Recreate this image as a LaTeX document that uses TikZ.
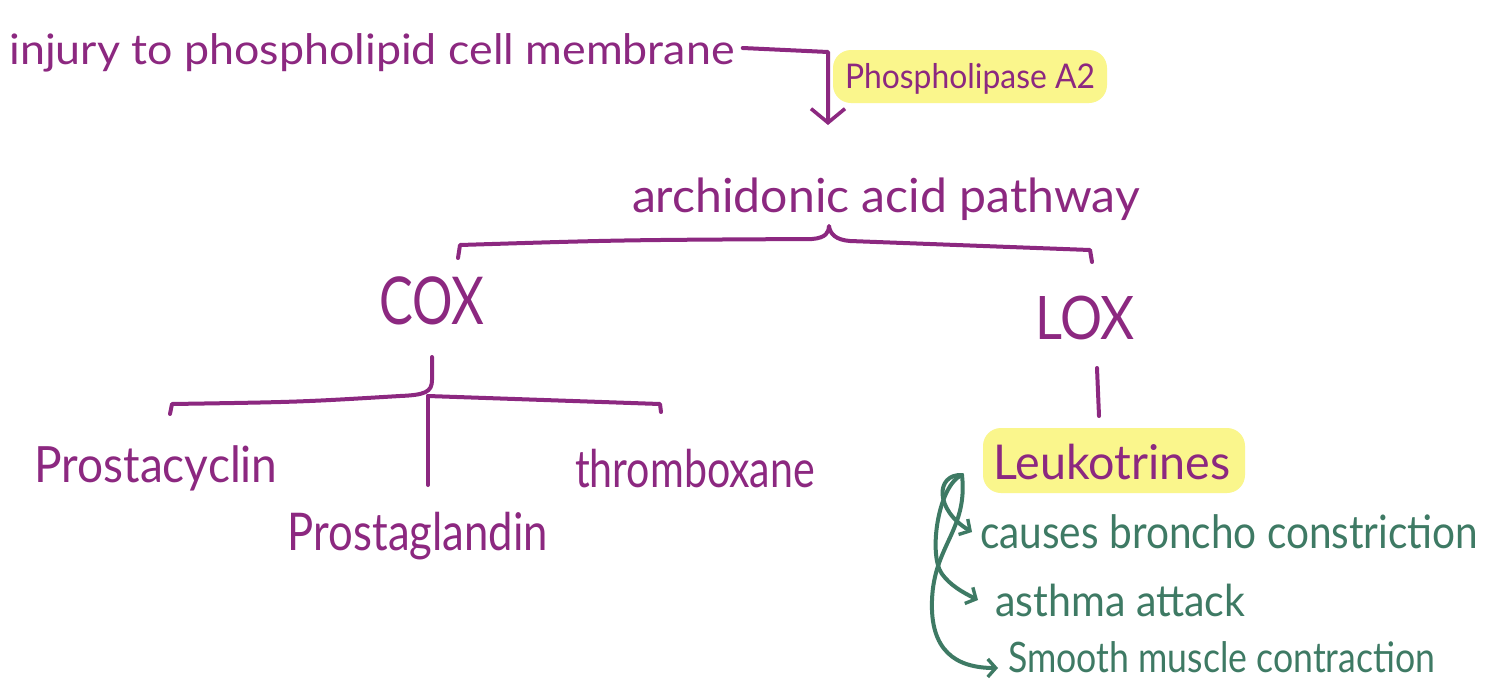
\documentclass[tikz,border=0pt]{standalone}
\usepackage{fontspec}
\setmainfont{Lato}
\usetikzlibrary{arrows.meta}
\definecolor{plum}{RGB}{140,40,128}
\definecolor{sage}{RGB}{62,122,100}
\definecolor{hl}{RGB}{250,246,140}
% width, font size, text
\newcommand{\fitw}[3]{{\fontsize{#2pt}{#2pt}\selectfont\resizebox{#1pt}{\height}{#3}}}
\begin{document}
\begin{tikzpicture}[x=1pt,y=-1pt,
  ptxt/.style={text=plum, inner sep=0pt, anchor=base},
  gtxt/.style={text=sage, inner sep=0pt, anchor=base west},
  pline/.style={draw=plum, line width=4pt, line cap=round, line join=round},
  gline/.style={draw=sage, line width=4pt, line cap=round, line join=round},
  hlbox/.style={fill=hl, rounded corners=18pt},
  bigbarb/.style={-{Straight Barb[length=14pt,width=34pt,line width=3.6pt]}},
  smallbarb/.style={-{Straight Barb[length=8pt,width=18pt,line width=3.4pt]}}]
\useasboundingbox (0,0) rectangle (1493,683);
\fill[white] (0,0) rectangle (1493,683);
% highlights
\fill[hlbox] (833,50) rectangle (1107,103);
\fill[hlbox] (983,428) rectangle (1245,493);
% texts (anchored at baseline)
\node[ptxt] (injury) at (372,64) {\fitw{725}{42}{injury to phospholipid cell membrane}};
\node[ptxt] (pla) at (970,88) {\fitw{250}{34}{Phospholipase A2}};
\node[ptxt] (aa) at (886,212) {\fitw{508}{47}{archidonic acid pathway}};
\node[ptxt] (cox) at (432,324) {\fitw{105}{66}{COX}};
\node[ptxt] (lox) at (1085,339) {\fitw{100}{60}{LOX}};
\node[ptxt] (pcyc) at (156,482) {\fitw{243}{50}{Prostacyclin}};
\node[ptxt] (thx) at (695,487) {\fitw{240}{52}{thromboxane}};
\node[ptxt] (pgl) at (418,550) {\fitw{260}{52}{Prostaglandin}};
\node[ptxt] (leuk) at (1112,479) {\fitw{237}{48}{Leukotrines}};
\node[gtxt] (bc) at (980,548) {\fitw{498}{46}{causes broncho constriction}};
\node[gtxt] (ast) at (995,616) {\fitw{250}{44}{asthma attack}};
\node[gtxt] (smc) at (1008,672) {\fitw{427}{42}{Smooth muscle contraction}};
% coordinates
\coordinate (pa) at (828,125);
\coordinate (braceTop) at (829,226);
\coordinate (coxTop) at (432,357);
\coordinate (coxMid) at (428,396);
\coordinate (loxTop) at (1097,368);
\coordinate (loxBot) at (1099,416);
\coordinate (gTop) at (962,475);
% phospholipase arrow
\draw[pline,bigbarb] (injury.east |- 0,48) ++(8,0) -- (828,52) -- (pa);
% archidonic brace
\draw[pline] (458,258) -- (460,245) .. controls (620,240) .. (812,239)
  .. controls (826,238) and (829,232) .. (braceTop)
  .. controls (830,234) and (836,240) .. (850,241) -- (1090,250) -- (1092,262);
% cox brace
\draw[pline] (coxTop) -- (432,380) .. controls (432,392) and (425,395) .. (400,396)
  .. controls (300,402) .. (172,404) -- (170,414);
\draw[pline] (coxMid) -- (660,404) -- (661,412);
\draw[pline] (coxMid) -- (428,485);
% lox line
\draw[pline] (loxTop) -- (loxBot);
% green arrows
\draw[gline,smallbarb] (gTop) .. controls (935,474) and (935,510) .. (972,532);
\draw[gline,smallbarb] (gTop) .. controls (938,485) and (928,555) .. (942,574)
  .. controls (950,585) and (962,592) .. (978,600);
\draw[gline,smallbarb] (gTop) .. controls (968,530) and (934,545) .. (932,600)
  .. controls (930,650) and (955,668) .. (998,668);
\end{tikzpicture}
\end{document}
